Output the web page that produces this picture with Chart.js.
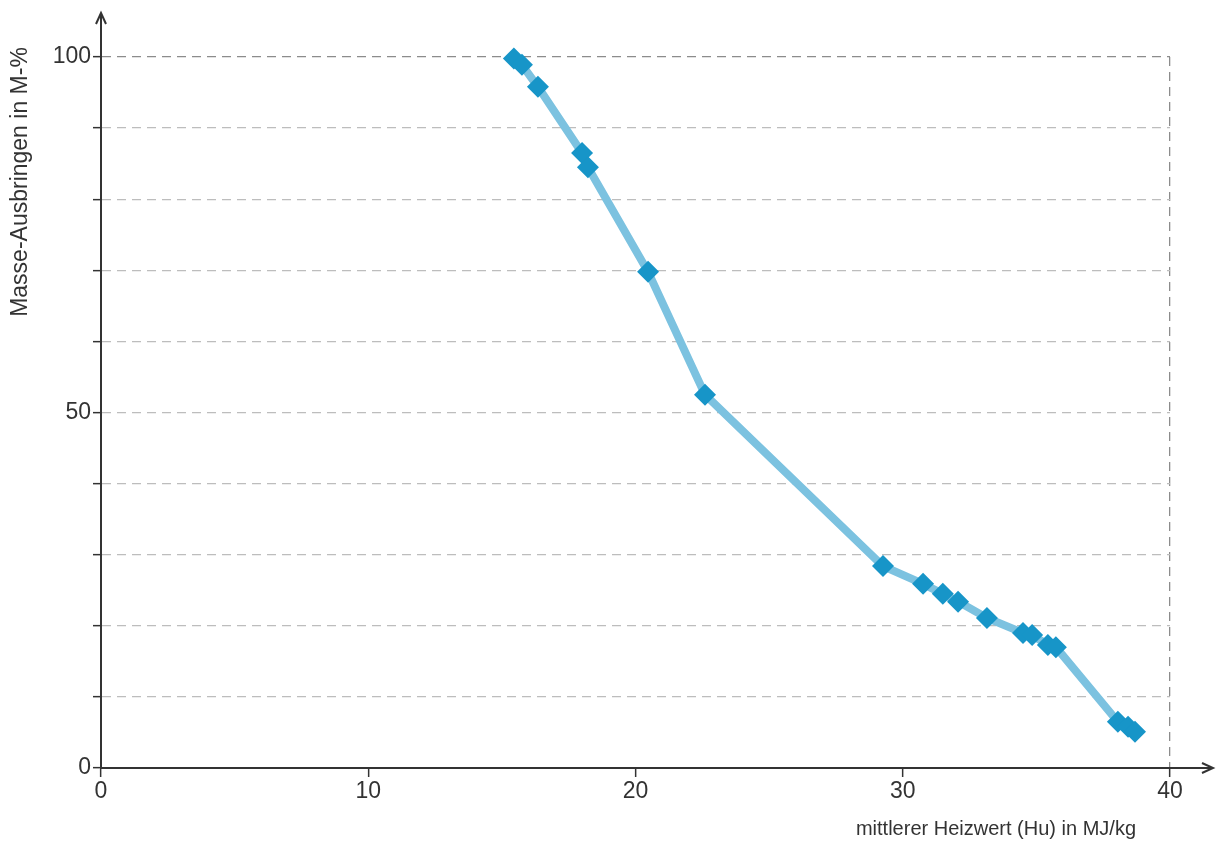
<!DOCTYPE html>
<html>
<head>
<meta charset="utf-8">
<script src="https://cdn.jsdelivr.net/npm/chart.js@4/dist/chart.umd.min.js"></script>
<style>
  html, body { margin: 0; padding: 0; background: #fff; }
  #wrap { width: 1218px; height: 844px; }
</style>
</head>
<body>
<div id="wrap"><canvas id="c" width="1218" height="844"></canvas></div>
<script>
// Mean calorific value (MJ/kg) and cumulative mass recovery (M-%)
const heizwert = [15.45, 15.75, 16.35, 18.0, 18.22, 20.47, 22.6, 29.26, 30.76, 31.5, 32.07, 33.15, 34.5, 34.84, 35.43, 35.73, 38.05, 38.43, 38.69];
const ausbringen = [99.8, 98.9, 95.8, 86.5, 84.5, 69.8, 52.5, 28.4, 25.9, 24.5, 23.4, 21.1, 19.0, 18.7, 17.3, 17.0, 6.5, 5.8, 5.1];
const xTicks = [0, 10, 20, 30, 40];
const yLabelled = [0, 50, 100];

const xTitle = 'mittlerer Heizwert (Hu) in MJ/kg';
const yTitle = 'Masse-Ausbringen in M-%';

const FONT = '"Liberation Sans", Arial, sans-serif';
const INK = '#333333';

const points = heizwert.map((x, i) => ({ x, y: ausbringen[i] }));

// Axis arrows and axis titles
const axisDecor = {
  id: 'axisDecor',
  afterDraw(chart) {
    const { ctx, chartArea: a, scales: { x, y } } = chart;
    const x0 = x.getPixelForValue(0);
    const y0 = y.getPixelForValue(0);
    ctx.save();
    ctx.strokeStyle = INK;
    ctx.fillStyle = INK;
    ctx.lineWidth = 2;
    // extend x axis to the right with arrow
    ctx.beginPath();
    ctx.moveTo(a.right, y0);
    ctx.lineTo(1212, y0);
    ctx.stroke();
    ctx.beginPath();
    ctx.moveTo(1202, y0 - 5);
    ctx.lineTo(1213, y0);
    ctx.lineTo(1202, y0 + 5);
    ctx.stroke();
    // extend y axis upward with arrow
    ctx.beginPath();
    ctx.moveTo(x0, a.top);
    ctx.lineTo(x0, 14);
    ctx.stroke();
    ctx.beginPath();
    ctx.moveTo(x0 - 5, 24);
    ctx.lineTo(x0, 13);
    ctx.lineTo(x0 + 5, 24);
    ctx.stroke();
    // titles
    ctx.textBaseline = 'middle';
    ctx.font = '20px ' + FONT;
    ctx.textAlign = 'right';
    ctx.fillText(xTitle, 1136, 829);
    ctx.font = '23px ' + FONT;
    ctx.translate(21, 182);
    ctx.rotate(-Math.PI / 2);
    ctx.textAlign = 'center';
    ctx.fillText(yTitle, 0, 0);
    ctx.restore();
  }
};

new Chart(document.getElementById('c'), {
  type: 'scatter',
  data: {
    datasets: [{
      data: points,
      showLine: true,
      clip: false,
      borderColor: '#7cc2e0',
      borderWidth: 8,
      pointStyle: 'rectRot',
      pointRadius: 11,
      pointHoverRadius: 11,
      pointBackgroundColor: '#1795c8',
      pointBorderColor: '#1795c8',
      pointBorderWidth: 0
    }]
  },
  options: {
    responsive: false,
    animation: false,
    layout: { padding: { top: 57, right: 48, left: 0, bottom: 0 } },
    plugins: { legend: { display: false }, tooltip: { enabled: false } },
    scales: {
      x: {
        type: 'linear',
        min: 0, max: 40,
        afterBuildTicks: s => { s.ticks = xTicks.map(v => ({ value: v })); },
        afterFit: s => { s.height = 76; },
        grid: {
          color: c => (c.tick && c.tick.value === 40 ? '#8c8c8c' : 'rgba(0,0,0,0)'),
          lineWidth: 1.3,
          tickColor: INK,
          tickLength: 9,
          tickWidth: 1.5,
          tickBorderDash: []
        },
        border: { display: true, color: INK, width: 2, dash: [9, 6] },
        ticks: { color: INK, font: { family: FONT, size: 23 }, padding: 1, maxRotation: 0 }
      },
      y: {
        type: 'linear',
        min: 0, max: 100,
        afterBuildTicks: s => {
          const t = [];
          for (let v = 0; v <= 100; v += 10) t.push({ value: v });
          s.ticks = t;
        },
        afterFit: s => { s.width = 101; },
        grid: {
          color: c => {
            if (!c.tick || c.tick.value === 0) return 'rgba(0,0,0,0)';
            return c.tick.value === 100 ? '#8c8c8c' : '#bdbdbd';
          },
          lineWidth: 1.3,
          tickColor: INK,
          tickLength: 8,
          tickWidth: 1.5,
          tickBorderDash: []
        },
        border: { display: true, color: INK, width: 2, dash: [9, 6] },
        ticks: {
          color: INK,
          font: { family: FONT, size: 23 },
          padding: 2,
          callback: v => (yLabelled.includes(v) ? String(v) : '')
        }
      }
    }
  },
  plugins: [axisDecor]
});
</script>
</body>
</html>
